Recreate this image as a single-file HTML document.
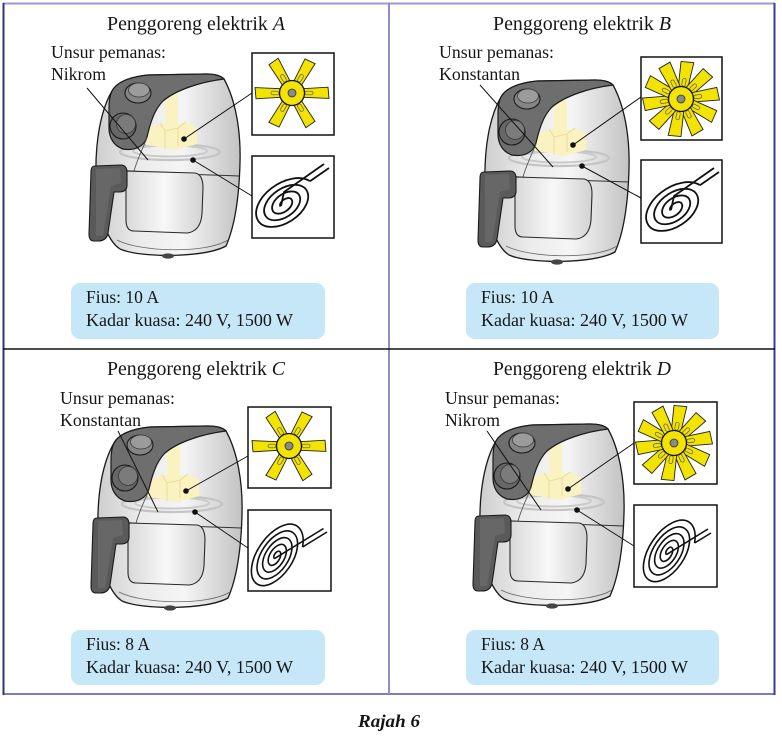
<!DOCTYPE html>
<html>
<head>
<meta charset="utf-8">
<style>
  html, body { margin:0; padding:0; background:#ffffff; }
  svg { display:block; }
  text { font-family: "Liberation Serif", "DejaVu Serif", serif; fill:#161616; }
</style>
</head>
<body>
<svg width="782" height="736" viewBox="0 0 782 736" xmlns="http://www.w3.org/2000/svg" xmlns:xlink="http://www.w3.org/1999/xlink">
<defs>
  <linearGradient id="bg" gradientUnits="userSpaceOnUse" x1="95" y1="0" x2="241" y2="0">
    <stop offset="0" stop-color="#cdcdcd"/>
    <stop offset="0.3" stop-color="#ebebeb"/>
    <stop offset="0.6" stop-color="#f5f5f5"/>
    <stop offset="1" stop-color="#c2c2c2"/>
  </linearGradient>
  <linearGradient id="dg" gradientUnits="userSpaceOnUse" x1="126" y1="0" x2="203" y2="0">
    <stop offset="0" stop-color="#d9d9d9"/>
    <stop offset="0.5" stop-color="#f8f8f8"/>
    <stop offset="1" stop-color="#d2d2d2"/>
  </linearGradient>

  <g id="fryer">
    <path d="M112,91 C117,82 129,77 148,75 L206,74 C215,74 221,76 224,79 C235,99 241,129 240,163 C239,200 234,228 226,246 C205,258 140,258 120,249 C106,240 97,210 96,178 C95,140 101,110 112,91 Z" fill="url(#bg)" stroke="#1a1a1a" stroke-width="1.3"/>
    <ellipse cx="170" cy="152" rx="50" ry="8" fill="none" stroke="#c4c4c4" stroke-width="2.2"/>
    <ellipse cx="170" cy="151" rx="37" ry="5.5" fill="none" stroke="#cacaca" stroke-width="2"/>
    <path d="M165,97 L178,94 L178,128 L165,131 Z" fill="#faf2c0"/>
    <path d="M146,129 L160,123 L172,126 L186,122 L197,128 L197,144 L176,150 L160,147 L146,145 Z" fill="#faf2c0"/>
    <path d="M165,131 L165,149 M178,128 L178,146 M160,123 L165,131 L178,128 L186,122" fill="none" stroke="#e6d993" stroke-width="0.8"/>
    <path d="M112,91 C117,82 129,77 148,75 L206,74 C215,74 221,76 224,79 C200,82 176,90 163,101 C154,110 150,124 147,137 C144,147 134,151 123,149 C114,146 109,138 109,128 L109,108 C109,100 110,95 112,91 Z" fill="#6e6e6e" stroke="#1a1a1a" stroke-width="1.2"/>
    <ellipse cx="138" cy="93" rx="13" ry="10" fill="#858585" stroke="#1a1a1a" stroke-width="1.1"/>
    <ellipse cx="139" cy="90" rx="10.5" ry="7" fill="#9b9b9b" stroke="#3a3a3a" stroke-width="0.8"/>
    <circle cx="123" cy="126" r="13" fill="#676767" stroke="#1a1a1a" stroke-width="1.1"/>
    <circle cx="126" cy="124" r="9.5" fill="#7b7b7b" stroke="#3a3a3a" stroke-width="0.8"/>
    <path d="M147,138 C142,150 137,160 134,171" fill="none" stroke="#555" stroke-width="0.9"/>
    <path d="M97,168 C130,172 180,174 239,176" fill="none" stroke="#333" stroke-width="1"/>
    <path d="M126,171 L195,173 C201,174 203,180 203,188 L202,214 C201,226 196,232 187,233 L134,231 C128,231 126,226 126,220 Z" fill="url(#dg)" stroke="#2a2a2a" stroke-width="1.1"/>
    <path d="M117,240 C140,252 205,254 228,240" fill="none" stroke="#666" stroke-width="0.8"/>
    <ellipse cx="168" cy="256" rx="6" ry="2.6" fill="#444"/>
    <path d="M95,166 L121,165 C125,165 127,168 127,172 L127,185 C127,190 124,192 119,192 L114,192 L108,233 C107,239 103,241 98,241 L94,241 C90,241 89,238 89,234 L91,172 C91,168 92,166 95,166 Z" fill="#5a5a5a" stroke="#1a1a1a" stroke-width="1.1"/>
    <path d="M96,169 L120,168 L121,183 L111,186 L103,236 L96,236 Z" fill="#676767"/>
  </g>

  <g id="b6">
    <path d="M9,-4.2 L36,-5.8 L37,5.4 L9,4.2 Z" fill="#f3e300" stroke="#222" stroke-width="0.9"/>
    <rect x="13" y="-1.8" width="8" height="3.6" rx="1.8" fill="none" stroke="#555" stroke-width="0.7"/>
  </g>
  <g id="b10">
    <path d="M9,-4.6 L37,-6.5 L38,6.3 L9,4.6 Z" fill="#f3e300" stroke="#222" stroke-width="0.9"/>
    <rect x="13" y="-1.8" width="8" height="3.6" rx="1.8" fill="none" stroke="#555" stroke-width="0.7"/>
  </g>
  <g id="fan6">
    <use xlink:href="#b6" transform="rotate(0)"/>
    <use xlink:href="#b6" transform="rotate(60)"/>
    <use xlink:href="#b6" transform="rotate(120)"/>
    <use xlink:href="#b6" transform="rotate(180)"/>
    <use xlink:href="#b6" transform="rotate(240)"/>
    <use xlink:href="#b6" transform="rotate(300)"/>
    <circle r="12.5" fill="#f3e300" stroke="#111" stroke-width="1.3"/>
    <circle r="4" fill="#8a8a8a" stroke="#333" stroke-width="0.8"/>
  </g>
  <g id="fan10">
    <use xlink:href="#b10" transform="rotate(-80)"/>
    <use xlink:href="#b10" transform="rotate(-44)"/>
    <use xlink:href="#b10" transform="rotate(-8)"/>
    <use xlink:href="#b10" transform="rotate(28)"/>
    <use xlink:href="#b10" transform="rotate(64)"/>
    <use xlink:href="#b10" transform="rotate(100)"/>
    <use xlink:href="#b10" transform="rotate(136)"/>
    <use xlink:href="#b10" transform="rotate(172)"/>
    <use xlink:href="#b10" transform="rotate(208)"/>
    <use xlink:href="#b10" transform="rotate(244)"/>
    <circle r="12.5" fill="#f3e300" stroke="#111" stroke-width="1.3"/>
    <circle r="4" fill="#8a8a8a" stroke="#333" stroke-width="0.8"/>
  </g>
</defs>

<!-- Frame -->
<line x1="3" y1="3.5" x2="775" y2="3.5" stroke="#9c9acb" stroke-width="2"/>
<line x1="3" y1="694" x2="775" y2="694" stroke="#7c7cc4" stroke-width="2"/>
<line x1="3.5" y1="3" x2="3.5" y2="695" stroke="#33337a" stroke-width="2"/>
<line x1="774.5" y1="3" x2="774.5" y2="695" stroke="#3838a8" stroke-width="2"/>
<line x1="389" y1="3" x2="389" y2="694" stroke="#8e8ccb" stroke-width="2"/>
<line x1="3" y1="349" x2="775" y2="349" stroke="#111" stroke-width="1.5"/>

<!-- ============ Panel A ============ -->
<text x="196" y="30" font-size="19.5" text-anchor="middle" textLength="178" lengthAdjust="spacingAndGlyphs">Penggoreng elektrik <tspan font-style="italic">A</tspan></text>
<text x="51" y="58" font-size="18" textLength="115" lengthAdjust="spacingAndGlyphs">Unsur pemanas:</text>
<text x="51" y="80" font-size="18" textLength="55" lengthAdjust="spacingAndGlyphs">Nikrom</text>
<use xlink:href="#fryer"/>
<line x1="87" y1="88" x2="148" y2="160" stroke="#111" stroke-width="1"/>
<rect x="252" y="53" width="82" height="82" fill="#fff" stroke="#111" stroke-width="1.5"/>
<use xlink:href="#fan6" transform="translate(292,93)"/>
<rect x="252" y="156" width="82" height="82" fill="#fff" stroke="#111" stroke-width="1.5"/>
<g transform="translate(286,203) rotate(-33) scale(1.1,0.68)">
  <path d="M-6,0 A6,6 0 0 1 6,0 A10,10 0 0 1 -14,0 A14,14 0 0 1 14,0 A18,18 0 0 1 -22,0 A22,22 0 0 1 22,0 A26,26 0 0 1 -30,0 A30,30 0 0 1 29,-7.8" fill="none" stroke="#111" stroke-width="1.8" vector-effect="non-scaling-stroke"/>
</g>
<path d="M281,206 L284,192 L324,164 M309.9,181.2 L329,168" fill="none" stroke="#111" stroke-width="1.8"/>
<circle cx="184" cy="139" r="2.8" fill="#111"/>
<circle cx="193" cy="160" r="2.8" fill="#111"/>
<line x1="184" y1="139" x2="252" y2="93" stroke="#111" stroke-width="1"/>
<line x1="193" y1="160" x2="252" y2="196" stroke="#111" stroke-width="1"/>
<rect x="71" y="283" width="254" height="56" rx="9" fill="#c6e7f8"/>
<text x="86" y="303" font-size="18" textLength="73" lengthAdjust="spacingAndGlyphs">Fius: 10 A</text>
<text x="86" y="326" font-size="18" textLength="207" lengthAdjust="spacingAndGlyphs">Kadar kuasa: 240 V, 1500 W</text>

<!-- ============ Panel B ============ -->
<text x="582" y="30" font-size="19.5" text-anchor="middle" textLength="178" lengthAdjust="spacingAndGlyphs">Penggoreng elektrik <tspan font-style="italic">B</tspan></text>
<text x="439" y="58" font-size="18" textLength="115" lengthAdjust="spacingAndGlyphs">Unsur pemanas:</text>
<text x="439" y="80" font-size="18" textLength="81" lengthAdjust="spacingAndGlyphs">Konstantan</text>
<use xlink:href="#fryer" transform="translate(389,6)"/>
<line x1="480" y1="85" x2="553" y2="167" stroke="#111" stroke-width="1"/>
<rect x="641" y="57" width="81" height="83" fill="#fff" stroke="#111" stroke-width="1.5"/>
<use xlink:href="#fan10" transform="translate(681,99)"/>
<rect x="641" y="160" width="81" height="83" fill="#fff" stroke="#111" stroke-width="1.5"/>
<g transform="translate(676,207) rotate(-33) scale(1.1,0.68)">
  <path d="M-6,0 A6,6 0 0 1 6,0 A10,10 0 0 1 -14,0 A14,14 0 0 1 14,0 A18,18 0 0 1 -22,0 A22,22 0 0 1 22,0 A26,26 0 0 1 -30,0 A30,30 0 0 1 29,-7.8" fill="none" stroke="#111" stroke-width="1.8" vector-effect="non-scaling-stroke"/>
</g>
<path d="M671,210 L674,196 L714,168 M699.9,185.2 L719,172" fill="none" stroke="#111" stroke-width="1.8"/>
<circle cx="573" cy="145" r="2.8" fill="#111"/>
<circle cx="582" cy="166" r="2.8" fill="#111"/>
<line x1="573" y1="145" x2="641" y2="97" stroke="#111" stroke-width="1"/>
<line x1="582" y1="166" x2="641" y2="198" stroke="#111" stroke-width="1"/>
<rect x="466" y="283" width="253" height="56" rx="9" fill="#c6e7f8"/>
<text x="481" y="303" font-size="18" textLength="73" lengthAdjust="spacingAndGlyphs">Fius: 10 A</text>
<text x="481" y="326" font-size="18" textLength="207" lengthAdjust="spacingAndGlyphs">Kadar kuasa: 240 V, 1500 W</text>

<!-- ============ Panel C ============ -->
<text x="196" y="375" font-size="19.5" text-anchor="middle" textLength="178" lengthAdjust="spacingAndGlyphs">Penggoreng elektrik <tspan font-style="italic">C</tspan></text>
<text x="60" y="404" font-size="18" textLength="115" lengthAdjust="spacingAndGlyphs">Unsur pemanas:</text>
<text x="60" y="426" font-size="18" textLength="81" lengthAdjust="spacingAndGlyphs">Konstantan</text>
<use xlink:href="#fryer" transform="translate(2,352)"/>
<line x1="118" y1="431" x2="158" y2="512" stroke="#111" stroke-width="1"/>
<rect x="248" y="407" width="83" height="81" fill="#fff" stroke="#111" stroke-width="1.5"/>
<use xlink:href="#fan6" transform="translate(289,446)"/>
<rect x="248" y="510" width="83" height="81" fill="#fff" stroke="#111" stroke-width="1.5"/>
<g transform="translate(277,555) rotate(-55) scale(1.1,0.6)">
  <path d="M-4,0 A4,4 0 0 1 4,0 A7.5,7.5 0 0 1 -11,0 A11,11 0 0 1 11,0 A14.5,14.5 0 0 1 -18,0 A18,18 0 0 1 18,0 A21.5,21.5 0 0 1 -25,0 A25,25 0 0 1 25,0 A28.5,28.5 0 0 1 -32,0 A32,32 0 0 1 32,0 A35.5,35.5 0 0 1 19.3,27.2" fill="none" stroke="#111" stroke-width="1.6" vector-effect="non-scaling-stroke"/>
</g>
<path d="M274.5,558.6 L323.5,528.5 M302.6,547 L327,532" fill="none" stroke="#111" stroke-width="1.6"/>
<circle cx="186" cy="491" r="2.8" fill="#111"/>
<circle cx="195" cy="512" r="2.8" fill="#111"/>
<line x1="186" y1="491" x2="248" y2="456" stroke="#111" stroke-width="1"/>
<line x1="195" y1="512" x2="248" y2="548" stroke="#111" stroke-width="1"/>
<rect x="71" y="630" width="254" height="55" rx="9" fill="#c6e7f8"/>
<text x="86" y="650" font-size="18" textLength="64" lengthAdjust="spacingAndGlyphs">Fius: 8 A</text>
<text x="86" y="673" font-size="18" textLength="207" lengthAdjust="spacingAndGlyphs">Kadar kuasa: 240 V, 1500 W</text>

<!-- ============ Panel D ============ -->
<text x="582" y="375" font-size="19.5" text-anchor="middle" textLength="178" lengthAdjust="spacingAndGlyphs">Penggoreng elektrik <tspan font-style="italic">D</tspan></text>
<text x="445" y="404" font-size="18" textLength="115" lengthAdjust="spacingAndGlyphs">Unsur pemanas:</text>
<text x="445" y="426" font-size="18" textLength="55" lengthAdjust="spacingAndGlyphs">Nikrom</text>
<use xlink:href="#fryer" transform="translate(384,350)"/>
<line x1="487" y1="431" x2="541" y2="510" stroke="#111" stroke-width="1"/>
<rect x="634" y="402" width="83" height="82" fill="#fff" stroke="#111" stroke-width="1.5"/>
<use xlink:href="#fan10" transform="translate(674,443)"/>
<rect x="634" y="505" width="83" height="82" fill="#fff" stroke="#111" stroke-width="1.5"/>
<g transform="translate(669,551) rotate(-55) scale(1.1,0.6)">
  <path d="M-4,0 A4,4 0 0 1 4,0 A7.5,7.5 0 0 1 -11,0 A11,11 0 0 1 11,0 A14.5,14.5 0 0 1 -18,0 A18,18 0 0 1 18,0 A21.5,21.5 0 0 1 -25,0 A25,25 0 0 1 25,0 A28.5,28.5 0 0 1 -32,0 A32,32 0 0 1 32,0 A35.5,35.5 0 0 1 19.3,27.2" fill="none" stroke="#111" stroke-width="1.6" vector-effect="non-scaling-stroke"/>
</g>
<path d="M666.5,554.6 L708,529 M694.6,543 L711,533" fill="none" stroke="#111" stroke-width="1.6"/>
<circle cx="568" cy="489" r="2.8" fill="#111"/>
<circle cx="577" cy="510" r="2.8" fill="#111"/>
<line x1="568" y1="489" x2="634" y2="443" stroke="#111" stroke-width="1"/>
<line x1="577" y1="510" x2="634" y2="546" stroke="#111" stroke-width="1"/>
<rect x="466" y="630" width="253" height="55" rx="9" fill="#c6e7f8"/>
<text x="481" y="650" font-size="18" textLength="64" lengthAdjust="spacingAndGlyphs">Fius: 8 A</text>
<text x="481" y="673" font-size="18" textLength="207" lengthAdjust="spacingAndGlyphs">Kadar kuasa: 240 V, 1500 W</text>

<!-- Caption -->
<text x="389" y="727" font-size="18" font-weight="bold" font-style="italic" text-anchor="middle" textLength="62" lengthAdjust="spacingAndGlyphs">Rajah 6</text>
</svg>
</body>
</html>
